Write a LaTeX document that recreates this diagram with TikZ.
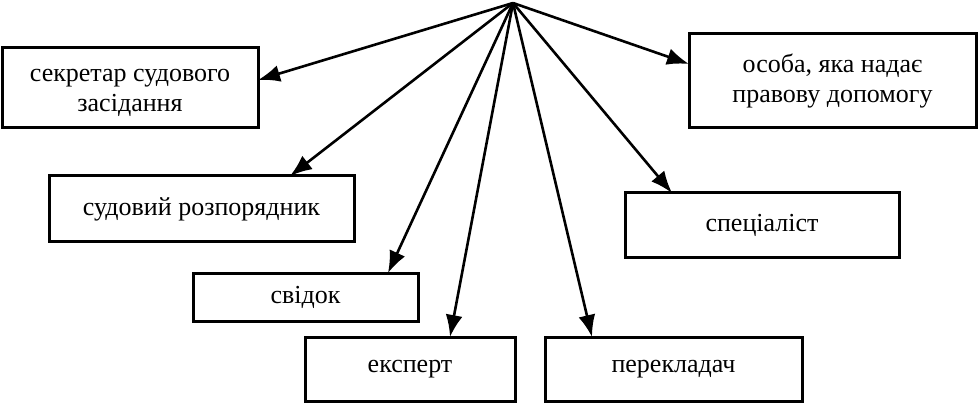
\documentclass[tikz,border=0pt]{standalone}
\usepackage{fontspec}
\setmainfont{Liberation Serif}
\usetikzlibrary{arrows.meta}
\begin{document}
\begin{tikzpicture}[x=1pt,y=-1pt,
  box/.style={draw, line width=3pt, inner sep=0pt, outer sep=0pt, align=center,
    font=\fontsize{26}{30}\selectfont},
  arr/.style={line width=2.6pt, -{Latex[length=22pt,width=17pt]}}]
\useasboundingbox (0,0) rectangle (980,406);
\coordinate (o) at (513,3);
\node[box, minimum width=256pt, minimum height=80pt,
  label={[font=\fontsize{26}{30}\selectfont, align=center, yshift=-5pt]center:секретар судового\\засідання}] (a) at (130,88) {};
\node[box, minimum width=305pt, minimum height=66pt] (b) at (201.5,209) {судовий розпорядник};
\node[box, minimum width=225pt, minimum height=48pt] (c) at (305.5,297) {\raisebox{0pt}{свідок}};
\node[box, minimum width=210pt, minimum height=64pt] (d) at (410,369) {експерт};
\node[box, minimum width=257pt, minimum height=64pt] (e) at (673.5,369) {перекладач};
\node[box, minimum width=274pt, minimum height=65pt] (f) at (762,225.5) {спеціаліст};
\node[box, minimum width=287pt, minimum height=94pt] (g) at (832.5,81) {особа, яка надає\\правову допомогу};
\draw[arr] (o) -- ([yshift=8pt]a.east);
\draw[arr] (o) -- ([xshift=88.5pt]b.north);
\draw[arr] (o) -- ([xshift=82.5pt]c.north);
\draw[arr] (o) -- ([xshift=40pt]d.north);
\draw[arr] (o) -- ([xshift=-81.5pt]e.north);
\draw[arr] (o) -- ([xshift=-90pt]f.north);
\draw[arr] (o) -- ([yshift=17pt]g.west);
\end{tikzpicture}
\end{document}
